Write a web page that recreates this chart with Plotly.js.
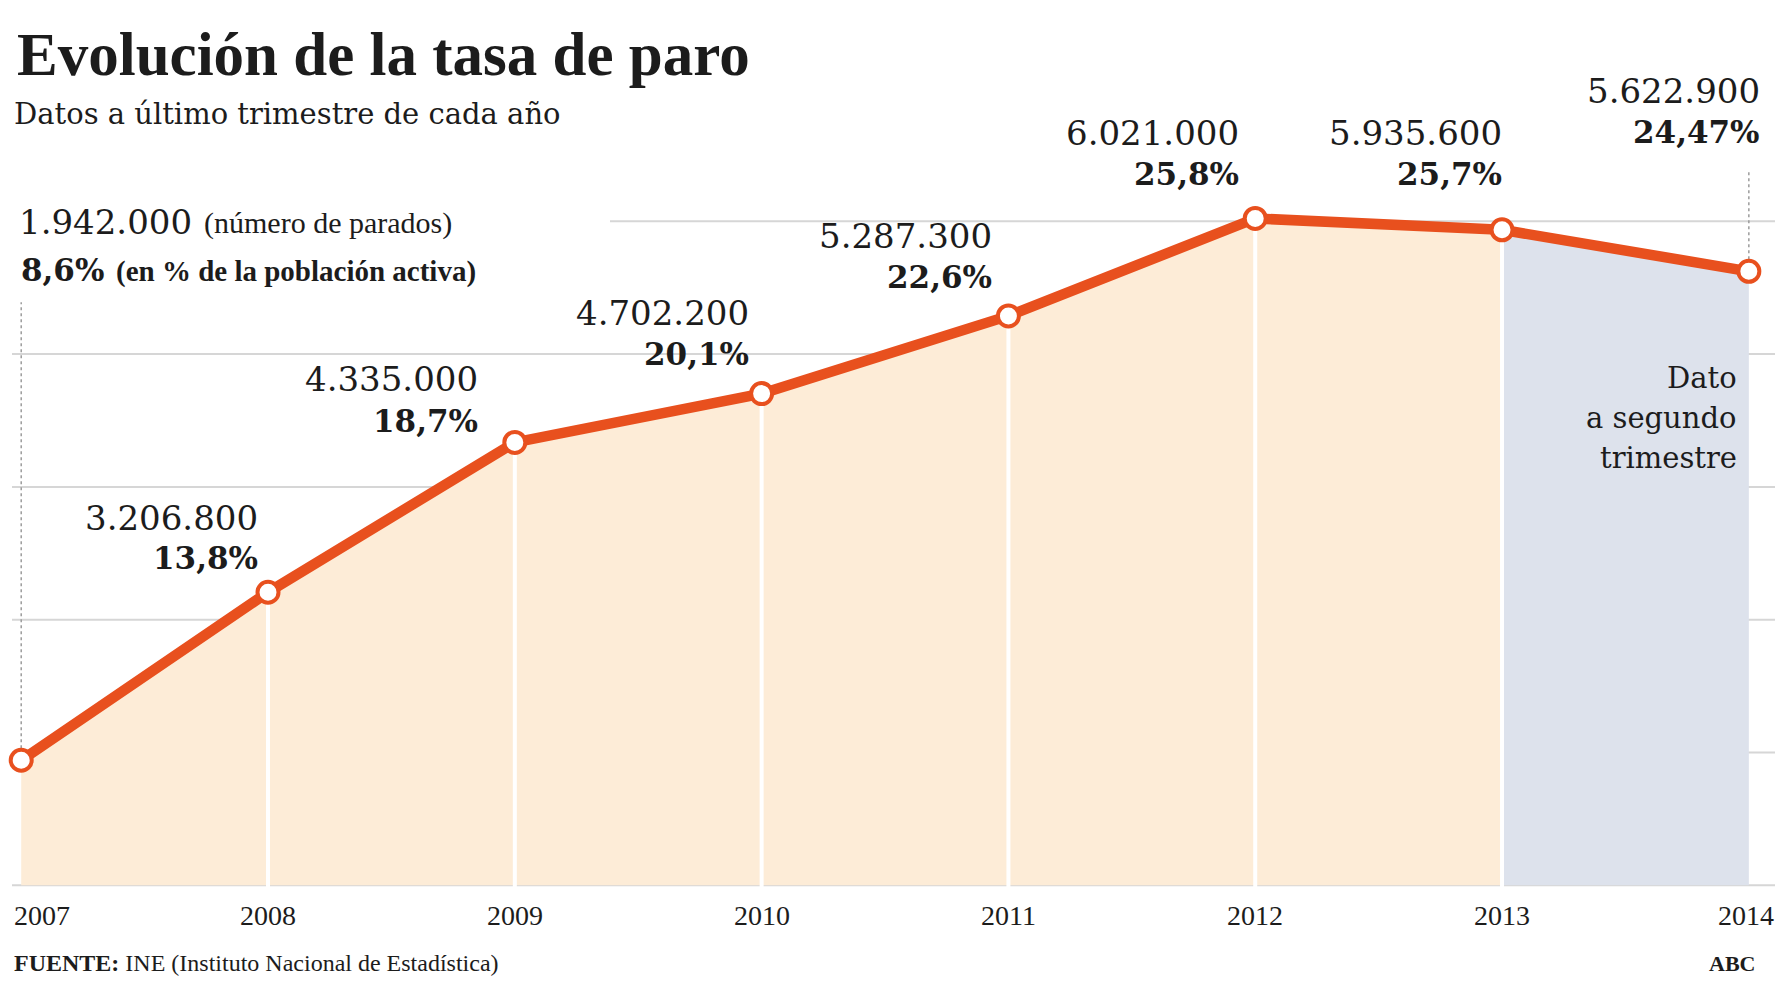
<!DOCTYPE html>
<html><head><meta charset="utf-8">
<script src="https://cdn.plot.ly/plotly-3.0.1.min.js"></script>
<style>html,body{margin:0;padding:0;background:#fff;} #chart{width:1787px;height:1004px;}</style>
</head><body><div id="chart"></div>
<script>
// ---------- DATA ----------
const years = [2007, 2008, 2009, 2010, 2011, 2012, 2013, 2014];
const parados = [1942000, 3206800, 4335000, 4702200, 5287300, 6021000, 5935600, 5622900];
const tasa = [8.6, 13.8, 18.7, 20.1, 22.6, 25.8, 25.7, 24.47];
const paradosText = ['1.942.000', '3.206.800', '4.335.000', '4.702.200', '5.287.300', '6.021.000', '5.935.600', '5.622.900'];
const tasaText = ['8,6%', '13,8%', '18,7%', '20,1%', '22,6%', '25,8%', '25,7%', '24,47%'];
const yearLabels = ['2007', '2008', '2009', '2010', '2011', '2012', '2013', '2014'];
const gridValues = [1000000, 2000000, 3000000, 4000000, 5000000, 6000000];

const titleText = 'Evolución de la tasa de paro';
const subtitleText = 'Datos a último trimestre de cada año';
const legendNumText = '(número de parados)';
const legendPctText = '(en % de la población activa)';
const noteLines = ['Dato', 'a segundo', 'trimestre'];
const sourceText = '<b>FUENTE:</b> INE (Instituto Nacional de Estadística)';
const brandText = '<b>ABC</b>';

// ---------- LAYOUT GEOMETRY ----------
const W = 1787, H = 1004;
const M = {l: 12, r: 12, t: 22, b: 112};
const plotW = W - M.l - M.r, plotH = H - M.t - M.b;
const xRange = [2006.9627, 2014.106];
const yRange = [950000, 7500000];
const px2paperX = p => (p - M.l) / plotW;
const px2paperY = p => (H - M.b - p) / plotH;

const ORANGE = '#e8501e';
const BEIGE = '#fdecd7';
const BLUE = '#dde2ec';
const GRID = '#d6d6d6';
const TXT = '#1c1c1c';
const NUMFONT = 'DejaVu Serif';
const CONDFONT = 'Liberation Serif';

// label offsets (px) relative to each data point: [dx of right edge, dy number centre, dy percent centre]
const labelOffsets = [null, [-9, 74, 34], [-36, 63, 21], [-12, 81, 40], [-15, 80, 39], [-15, 85, 44], [1, 97, 56], [12, 180, 139]];

// ---------- SHAPES ----------
const shapes = [];
const i13 = years.indexOf(2013);
let beigePath = `M ${years[0]},${gridValues[0]}`;
for (let i = 0; i <= i13; i++) beigePath += ` L ${years[i]},${parados[i]}`;
beigePath += ` L ${years[i13]},${gridValues[0]} Z`;
shapes.push({type: 'path', xref: 'x', yref: 'y', path: beigePath, fillcolor: BEIGE, line: {width: 0}, layer: 'below'});
let bluePath = `M ${years[i13]},${gridValues[0]}`;
for (let i = i13; i < years.length; i++) bluePath += ` L ${years[i]},${parados[i]}`;
bluePath += ` L ${years[years.length - 1]},${gridValues[0]} Z`;
shapes.push({type: 'path', xref: 'x', yref: 'y', path: bluePath, fillcolor: BLUE, line: {width: 0}, layer: 'below'});

gridValues.forEach((g, i) => {
  shapes.push({type: 'line', xref: 'paper', yref: 'y', x0: i === gridValues.length - 1 ? px2paperX(610) : 0, x1: 1,
    y0: g, y1: g, line: {color: GRID, width: 2}, layer: 'below'});
});
for (let i = 1; i < years.length - 1; i++) {
  shapes.push({type: 'line', xref: 'x', yref: 'y', x0: years[i], x1: years[i], y0: yRange[0] + 20000, y1: parados[i],
    line: {color: '#ffffff', width: 4}, layer: 'below'});
}
// dotted leaders above first and last points
shapes.push({type: 'line', xref: 'x', yref: 'y', x0: years[0], x1: years[0], y0: parados[0], y1: 5390000,
  line: {color: '#9c9c9c', width: 1.5, dash: 'dot'}, layer: 'below'});
shapes.push({type: 'line', xref: 'x', yref: 'y', x0: years[7], x1: years[7], y0: parados[7], y1: 6390000,
  line: {color: '#9c9c9c', width: 1.5, dash: 'dot'}, layer: 'below'});

// ---------- ANNOTATIONS ----------
const ann = [];
const base = {showarrow: false, borderpad: 0};
ann.push(Object.assign({}, base, {text: '<b>' + titleText + '</b>', xref: 'paper', yref: 'paper', x: px2paperX(16), y: px2paperY(55),
  xanchor: 'left', yanchor: 'middle', font: {family: CONDFONT, size: 61, color: TXT}}));
ann.push(Object.assign({}, base, {text: subtitleText, xref: 'paper', yref: 'paper', x: px2paperX(13), y: px2paperY(114),
  xanchor: 'left', yanchor: 'middle', font: {family: NUMFONT, size: 29, color: TXT}}));

// first point legend-style label
ann.push(Object.assign({}, base, {text: paradosText[0], xref: 'paper', yref: 'paper', x: px2paperX(18), y: px2paperY(222),
  xanchor: 'left', yanchor: 'middle', font: {family: NUMFONT, size: 34, color: TXT}}));
ann.push(Object.assign({}, base, {text: legendNumText, xref: 'paper', yref: 'paper', x: px2paperX(203), y: px2paperY(223),
  xanchor: 'left', yanchor: 'middle', font: {family: CONDFONT, size: 30, color: TXT}}));
ann.push(Object.assign({}, base, {text: '<b>' + tasaText[0] + '</b>', xref: 'paper', yref: 'paper', x: px2paperX(20), y: px2paperY(270),
  xanchor: 'left', yanchor: 'middle', font: {family: NUMFONT, size: 31, color: TXT}}));
ann.push(Object.assign({}, base, {text: '<b>' + legendPctText + '</b>', xref: 'paper', yref: 'paper', x: px2paperX(115), y: px2paperY(271),
  xanchor: 'left', yanchor: 'middle', font: {family: CONDFONT, size: 29, color: TXT}}));

for (let i = 1; i < years.length; i++) {
  const o = labelOffsets[i];
  ann.push(Object.assign({}, base, {text: paradosText[i], xref: 'x', yref: 'y', x: years[i], y: parados[i],
    xanchor: 'right', yanchor: 'middle', xshift: o[0], yshift: o[1], font: {family: NUMFONT, size: 34, color: TXT}}));
  ann.push(Object.assign({}, base, {text: '<b>' + tasaText[i] + '</b>', xref: 'x', yref: 'y', x: years[i], y: parados[i],
    xanchor: 'right', yanchor: 'middle', xshift: o[0], yshift: o[2], font: {family: NUMFONT, size: 31, color: TXT}}));
}

noteLines.forEach((t, k) => {
  ann.push(Object.assign({}, base, {text: t, xref: 'paper', yref: 'paper', x: px2paperX(1738), y: px2paperY(378 + 40 * k),
    xanchor: 'right', yanchor: 'middle', font: {family: NUMFONT, size: 29, color: TXT}}));
});

// x tick labels
years.forEach((yr, i) => {
  let xa = 'center', xs = 0;
  if (i === 0) { xa = 'left'; xs = -8; }
  if (i === years.length - 1) { xa = 'right'; xs = 26; }
  ann.push(Object.assign({}, base, {text: yearLabels[i], xref: 'x', yref: 'paper', x: yr, y: px2paperY(915),
    xanchor: xa, xshift: xs, yanchor: 'middle', font: {family: CONDFONT, size: 28, color: TXT}}));
});

ann.push(Object.assign({}, base, {text: sourceText, xref: 'paper', yref: 'paper', x: px2paperX(13), y: px2paperY(963),
  xanchor: 'left', yanchor: 'middle', font: {family: CONDFONT, size: 24, color: TXT}}));
ann.push(Object.assign({}, base, {text: brandText, xref: 'paper', yref: 'paper', x: px2paperX(1756), y: px2paperY(963),
  xanchor: 'right', yanchor: 'middle', font: {family: CONDFONT, size: 22, color: TXT}}));

// ---------- TRACE ----------
const trace = {
  type: 'scatter', mode: 'lines+markers', x: years, y: parados, cliponaxis: false,
  line: {color: ORANGE, width: 10.5},
  marker: {size: 21, color: '#ffffff', line: {color: ORANGE, width: 4}},
  hoverinfo: 'skip'
};

const layout = {
  width: W, height: H, margin: M, showlegend: false,
  paper_bgcolor: '#ffffff', plot_bgcolor: '#ffffff',
  xaxis: {range: xRange, visible: false, fixedrange: true},
  yaxis: {range: yRange, visible: false, fixedrange: true},
  shapes: shapes, annotations: ann
};

Plotly.newPlot('chart', [trace], layout, {staticPlot: true, displayModeBar: false});
</script>
</body></html>
